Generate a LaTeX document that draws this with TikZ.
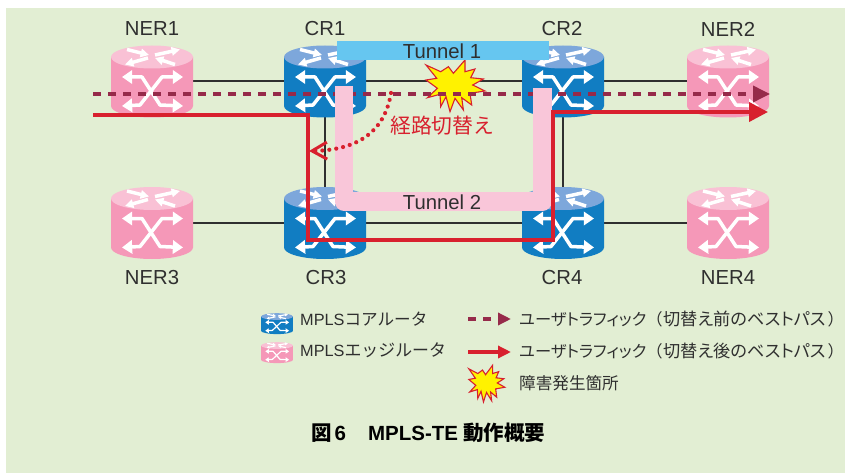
\documentclass[tikz,border=0pt]{standalone}
\usepackage{fontspec}
\setmainfont{Liberation Sans}
\newfontfamily\jp[RawFeature=+palt]{Noto Sans CJK JP}
\newfontfamily\jpfull{Noto Sans CJK JP}
\usepackage{tikz}
\usetikzlibrary{arrows.meta}
\definecolor{PanelGreen}{HTML}{E2EED3}
\definecolor{EdgePink}{HTML}{F598B8}
\definecolor{EdgePinkTop}{HTML}{F9C1D5}
\definecolor{CoreBlue}{HTML}{117DC2}
\definecolor{CoreBlueTop}{HTML}{7DA7DB}
\definecolor{TunnelBlue}{HTML}{66C6F0}
\definecolor{TunnelPink}{HTML}{F9C6D9}
\definecolor{OldPath}{HTML}{962A4A}
\definecolor{NewPath}{HTML}{D8202E}
\definecolor{TextGray}{HTML}{2F2F2F}

\begin{document}
\begin{tikzpicture}[
x=1pt,y=-1pt,
MyLinks/.style={draw=TextGray,line width=2pt},
OldRoute/.style={draw=OldPath,line width=3.6pt,dash pattern=on 8pt off 7pt},
NewRoute/.style={draw=NewPath,line width=4pt,line join=miter},
SwitchDots/.style={draw=NewPath,line width=4.2pt,line cap=round,dash pattern=on 0pt off 7pt},
RouterText/.style={font=\fontsize{20.3}{22}\selectfont,text=TextGray},
KeyText/.style={font=\fontsize{16.3}{18}\selectfont,text=TextGray,anchor=west,inner sep=0pt},
pics/Router/.style n args={3}{code={
  \fill[#1] (-41,-24) -- (-41,25) arc[start angle=180,end angle=360,x radius=41pt,y radius=11.5pt] -- (41,-24) -- cycle;
  \fill[#2] (0,-24) ellipse [x radius=41pt,y radius=11.5pt];
  \draw[white,line width=#3pt,line join=bevel,{Triangle[length=0pt 2.9,width=0pt 3.8]}-{Triangle[length=0pt 2.9,width=0pt 3.8]}] (-30,-4) -- (-10,-4) -- (8,24) -- (31,25);
  \draw[white,line width=#3pt,line join=bevel,{Triangle[length=0pt 2.9,width=0pt 3.8]}-{Triangle[length=0pt 2.9,width=0pt 3.8]}] (31,-4) -- (10,-4) -- (-12,24) -- (-30,25);
  \draw[white,line width=#3pt,-{Triangle[length=0pt 2.4,width=0pt 2.4]}] (-25,-31.5) -- (-3,-26);
  \draw[white,line width=#3pt,-{Triangle[length=0pt 2.4,width=0pt 2.4]}] (3,-26) -- (28,-31.5);
  \draw[white,line width=#3pt,-{Triangle[length=0pt 2.4,width=0pt 2.4]}] (-4,-23) -- (-27,-16.5);
  \draw[white,line width=#3pt,-{Triangle[length=0pt 2.4,width=0pt 2.4]}] (23,-16.5) -- (3,-23);
}},
pics/Burst/.style={code={
  \filldraw[fill=yellow,draw=NewPath,line width=1.1pt,line join=miter] (-25.7,-20) -- (-11,-13.3) -- (-3.3,-18.3) -- (1.7,-11.7) -- (13.3,-25) -- (13.3,-13.3) -- (23.3,-16) -- (19,-7.3) -- (31.7,-6) -- (21,0) -- (33.3,6) -- (18.3,8.3) -- (20,20) -- (10,12.7) -- (11.7,25) -- (3.3,13.3) -- (-1.7,26.7) -- (-5.7,11.7) -- (-11,21.7) -- (-11.7,9.3) -- (-24.3,12.7) -- (-14.3,3.3) -- (-25.7,-5) -- (-15,-6.7) -- cycle;
}}
]
\useasboundingbox (0,0) rectangle (845,473);
\fill[PanelGreen] (6,8) rectangle (845,473);

% routers sit on the link level
\coordinate (NERa) at (152,81);
\coordinate (CRa) at (325,81);
\coordinate (CRb) at (563,81);
\coordinate (NERb) at (728,81);
\coordinate (NERc) at (152,222.5);
\coordinate (CRc) at (325,222.5);
\coordinate (CRd) at (563,222.5);
\coordinate (NERd) at (728,222.5);

\draw[MyLinks] (NERa)--(CRa);
\draw[MyLinks] (CRa)--(CRb);
\draw[MyLinks] (CRb)--(NERb);
\draw[MyLinks] (NERc)--(CRc);
\draw[MyLinks] (CRc)--(CRd);
\draw[MyLinks] (CRd)--(NERd);
\draw[MyLinks] (CRa)--(CRc);
\draw[MyLinks] (CRb)--(CRd);

\pic at (NERa) {Router={EdgePink}{EdgePinkTop}{3.5}};
\pic at (CRa) {Router={CoreBlue}{CoreBlueTop}{3.5}};
\pic at (CRb) {Router={CoreBlue}{CoreBlueTop}{3.5}};
\pic at (NERb) {Router={EdgePink}{EdgePinkTop}{3.5}};
\pic at (NERc) {Router={EdgePink}{EdgePinkTop}{3.5}};
\pic at (CRc) {Router={CoreBlue}{CoreBlueTop}{3.5}};
\pic at (CRd) {Router={CoreBlue}{CoreBlueTop}{3.5}};
\pic at (NERd) {Router={EdgePink}{EdgePinkTop}{3.5}};

\node[RouterText] (NERaLabel) at (152,29) {NER1};
\node[RouterText] (CRaLabel) at (325,29) {CR1};
\node[RouterText] (CRbLabel) at (562,29) {CR2};
\node[RouterText] (NERbLabel) at (728,29) {NER2};
\node[RouterText] (NERcLabel) at (152,278) {NER3};
\node[RouterText] (CRcLabel) at (326,278) {CR3};
\node[RouterText] (CRdLabel) at (562,278) {CR4};
\node[RouterText] (NERdLabel) at (728,278) {NER4};

\pic at (451.7,85) {Burst};

% route before the switch
\coordinate (OldStart) at (93,94);
\coordinate (OldEnd) at (770,94);
\draw[OldRoute,-{Triangle[length=17pt,width=16pt]}] (OldStart)--(OldEnd);

% the tunnels
\coordinate (TwoA) at (344,86);
\coordinate (TwoB) at (344,201.5);
\coordinate (TwoC) at (542.5,201.5);
\coordinate (TwoD) at (542.5,88);
\draw[TunnelPink,line width=18.5pt,line join=round] (TwoA)--(TwoB)--(TwoC)--(TwoD);
\node[RouterText] (TunnelTwo) at (442,202) {Tunnel 2};
\fill[TunnelBlue] (337,41) rectangle (549,60);
\node[RouterText] (TunnelOne) at (442,51) {Tunnel 1};

% route after the switch
\coordinate (NewStart) at (93,115);
\coordinate (NewA) at (307.5,115);
\coordinate (NewB) at (307.5,240);
\coordinate (NewC) at (552.5,240);
\coordinate (NewD) at (552.5,112);
\coordinate (NewEnd) at (768,112);
\draw[NewRoute,-{Triangle[length=19pt,width=19pt]}] (NewStart)--(NewA)--(NewB)--(NewC)--(NewD)--(NewEnd);

\coordinate (SwitchFrom) at (391,93);
\coordinate (SwitchTo) at (309,151);
\draw[SwitchDots,-{Straight Barb[length=15pt,width=17pt,line width=3pt]}] (SwitchFrom) .. controls (385,130) and (360,150) .. (SwitchTo);
\node[font=\fontsize{20.8}{22}\selectfont,text=NewPath,anchor=west,inner sep=0pt] (SwitchLabel) at (390,126) {\jpfull 経路切替え};

% key
\pic[xscale=.39,yscale=.29] at (277,323.5) {Router={CoreBlue}{CoreBlueTop}{1.2}};
\pic[xscale=.39,yscale=.29] at (277,352.5) {Router={EdgePink}{EdgePinkTop}{1.2}};
\node[KeyText] (KeyCore) at (300,319) {MPLS{\jpfull\fontsize{16.6}{18}\selectfont コアルータ}};
\node[KeyText] (KeyEdge) at (300,350) {MPLS{\jpfull\fontsize{16.9}{18}\selectfont エッジルータ}};

\coordinate (KeyOldA) at (468,319);
\coordinate (KeyOldB) at (511,319);
\draw[OldRoute,-{Triangle[length=13pt,width=12pt]}] (KeyOldA)--(KeyOldB);
\coordinate (KeyNewA) at (468,352);
\coordinate (KeyNewB) at (511,352);
\draw[NewRoute,line width=3.4pt,-{Triangle[length=13pt,width=12pt]}] (KeyNewA)--(KeyNewB);
\pic[xscale=.61,yscale=.71] at (484.5,383) {Burst};

\node[KeyText] (KeyOld) at (519,319) {\jp ユーザトラフィック{\jpfull （}\hspace{1pt}{\fontsize{17.2}{18}\selectfont 切替え前のベストパス}\hspace{2pt}{\jpfull ）}};
\node[KeyText] (KeyNew) at (519,351) {\jp ユーザトラフィック{\jpfull （}\hspace{1pt}{\fontsize{17.2}{18}\selectfont 切替え後のベストパス}\hspace{2pt}{\jpfull ）}};
\node[KeyText] (KeyFault) at (519,383) {\jpfull\fontsize{16.6}{18}\selectfont 障害発生箇所};

\node[font=\fontsize{20.5}{24}\selectfont\bfseries,text=black,anchor=west,inner sep=0pt] (Caption) at (311,433) {{\jpfull 図}\hspace{3pt}6\hspace{22pt}MPLS-TE\hspace{5pt}{\jpfull 動作概要}};

\end{tikzpicture}
\end{document}
